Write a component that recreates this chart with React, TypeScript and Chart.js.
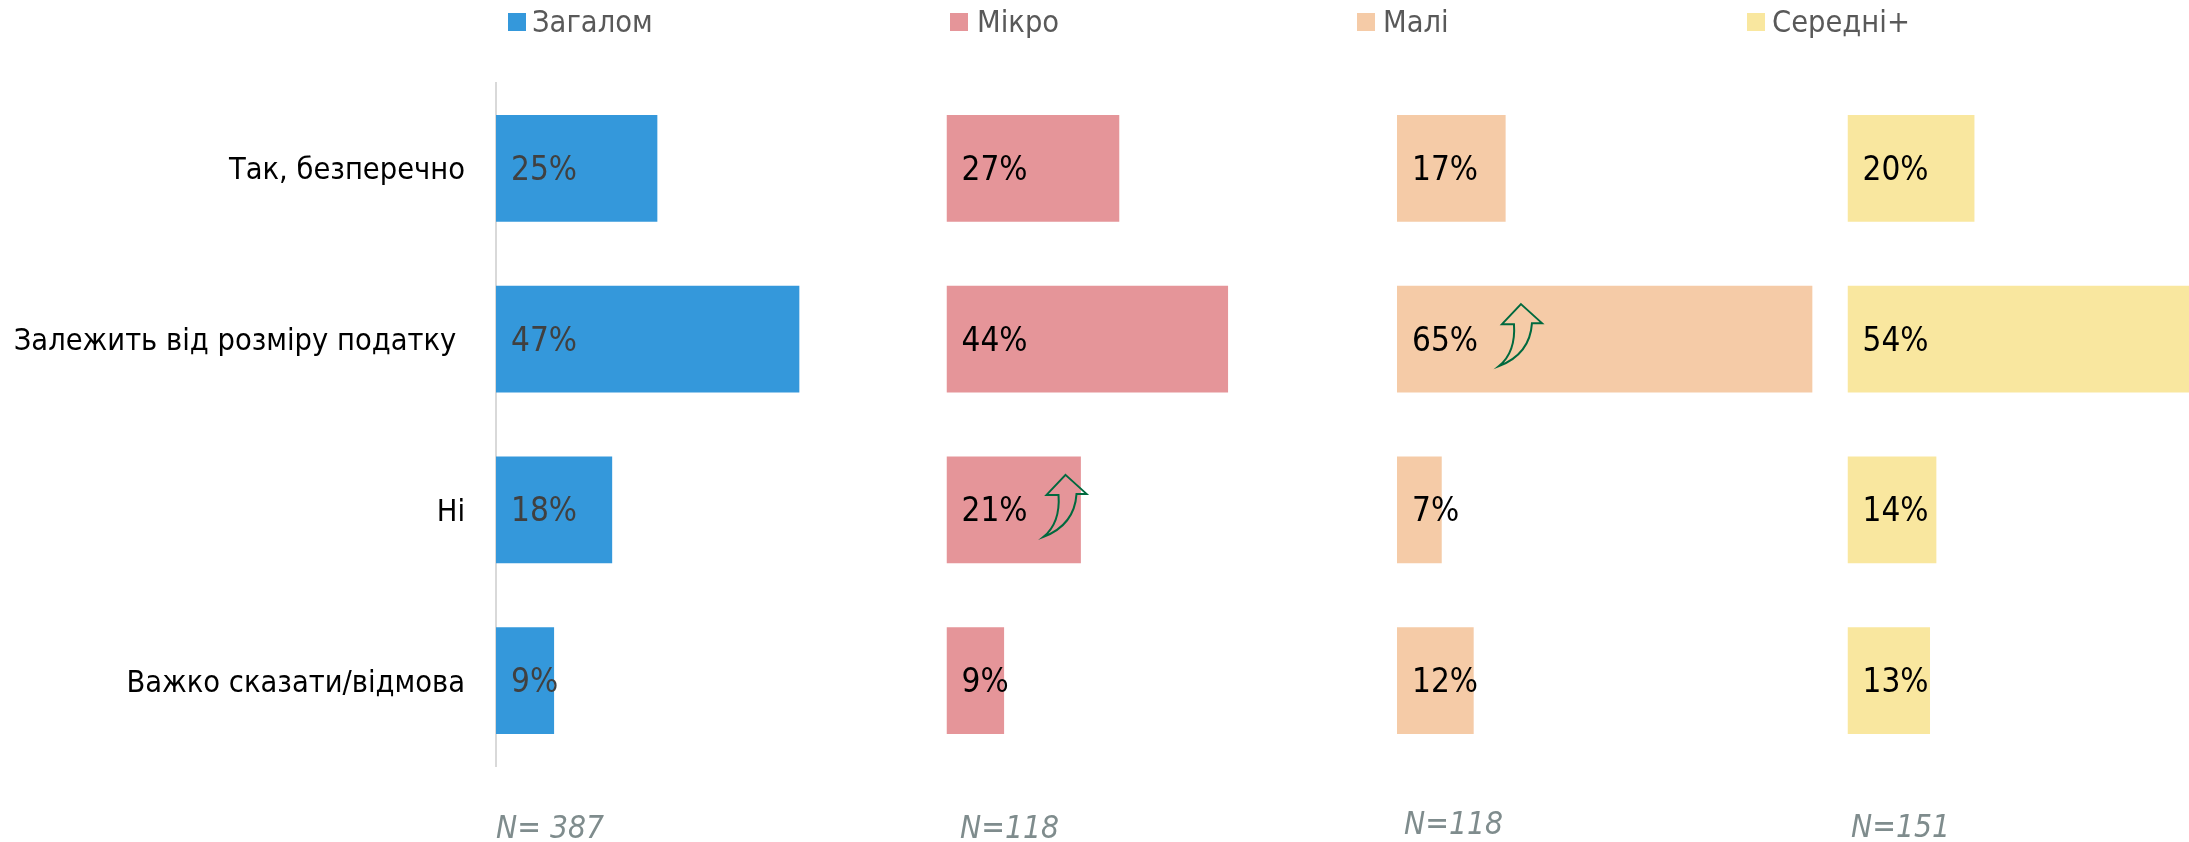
import React, { useEffect, useRef } from "react";
import { Chart, registerables } from "chart.js";

Chart.register(...registerables);

const categories = ["Так, безперечно", "Залежить від розміру податку ", "Ні", "Важко сказати/відмова"];
const seriesNames = ["Загалом", "Мікро", "Малі", "Середні+"];
const total = [25, 47, 18, 9];
const micro = [27, 44, 21, 9];
const small = [17, 65, 7, 12];
const medium = [20, 54, 14, 13];
const sampleLabels = ["N= 387", "N=118", "N=118", "N=151"];
const colors = ["#3498db", "#e59599", "#f5cba7", "#f9e79f"];
const labelColors = ["#404040", "#000000", "#000000", "#000000"];
const seriesValues = [total, micro, small, medium];
const axisMax = [69.8, 70.4, 70.5, 53.8];
const axisWeight = [450.5, 450.5, 450.5, 341.5];
const legendX = [508, 950, 1357, 1747];
const legendTextX = [532, 977, 1383, 1772];
const sampleX = [496, 960, 1404, 1851];
const sampleY = [838, 838, 834, 837];
const arrows = [
  { series: 1, category: 2, value: 18.6 },
  { series: 2, category: 1, value: 19.4 },
];

const FONT = '"DejaVu Sans Condensed", "DejaVu Sans"';

const overlay = {
  id: "overlay",
  afterDatasetsDraw(chart: any) {
    const { ctx } = chart;
    ctx.save();
    // value labels
    ctx.font = `33px ${FONT}`;
    ctx.textAlign = "left";
    ctx.textBaseline = "middle";
    seriesValues.forEach((vals, s) => {
      const xs = chart.scales[`x${s}`];
      const meta = chart.getDatasetMeta(s);
      vals.forEach((v, i) => {
        ctx.fillStyle = labelColors[s];
        ctx.fillText(`${v}%`, xs.getPixelForValue(0) + 15, meta.data[i].y + 3);
      });
    });
    // legend
    seriesNames.forEach((name, s) => {
      ctx.fillStyle = colors[s];
      ctx.fillRect(legendX[s], 13, 18, 18);
      ctx.fillStyle = "#595959";
      ctx.font = `30.5px ${FONT}`;
      ctx.textBaseline = "middle";
      ctx.fillText(name, legendTextX[s], 24);
    });
    // sample sizes
    ctx.font = `italic 31.5px ${FONT}`;
    ctx.fillStyle = "#7f8c8d";
    ctx.textBaseline = "alphabetic";
    sampleLabels.forEach((t, s) => ctx.fillText(t, sampleX[s], sampleY[s]));
    // arrows
    arrows.forEach((a) => {
      const x = chart.scales[`x${a.series}`].getPixelForValue(a.value);
      const barY = chart.getDatasetMeta(a.series).data[a.category].y;
      const y = barY - 35;
      ctx.beginPath();
      ctx.moveTo(x, y);
      ctx.lineTo(x + 21, y + 19);
      ctx.lineTo(x + 11, y + 19);
      ctx.quadraticCurveTo(x + 9, y + 50, x - 22, y + 62);
      ctx.quadraticCurveTo(x - 5, y + 48, x - 7, y + 20);
      ctx.lineTo(x - 19, y + 20);
      ctx.closePath();
      ctx.lineWidth = 2;
      ctx.strokeStyle = "#00693e";
      ctx.stroke();
    });
    ctx.restore();
  },
};

export default function App() {
  const ref = useRef<HTMLCanvasElement>(null);
  useEffect(() => {
    const scales: any = {
      y: {
        type: "category",
        position: "left",
        grid: { display: false, drawTicks: false },
        border: { color: "#d9d9d9", width: 2 },
        ticks: { color: "#000000", padding: 31, labelOffset: 3, font: { size: 30.5, family: FONT } },
        afterFit(scale: any) {
          scale.width = 496;
        },
      },
    };
    seriesValues.forEach((_, s) => {
      scales[`x${s}`] = {
        type: "linear",
        position: "bottom",
        stack: "panels",
        stackWeight: axisWeight[s],
        min: 0,
        max: axisMax[s],
        grid: { display: false, drawTicks: false },
        border: { display: false },
        ticks: { display: false },
      };
    });
    const chart = new Chart(ref.current as HTMLCanvasElement, {
      type: "bar",
      data: {
        labels: categories,
        datasets: seriesValues.map((data, s) => ({
          label: seriesNames[s],
          data,
          xAxisID: `x${s}`,
          yAxisID: "y",
          backgroundColor: colors[s],
          grouped: false,
          barPercentage: 0.624,
          categoryPercentage: 1,
        })),
      } as any,
      options: {
        indexAxis: "y",
        animation: false,
        responsive: false,
        layout: { padding: { top: 83, bottom: 76, left: 0, right: 0 } },
        plugins: { legend: { display: false }, tooltip: { enabled: false } },
        scales,
      } as any,
      plugins: [overlay],
    });
    return () => chart.destroy();
  }, []);
  return (
    <canvas
      ref={ref}
      width={2189}
      height={842}
      style={{ position: "fixed", left: 0, top: 0, width: 2189, height: 842, display: "block" }}
    />
  );
}
